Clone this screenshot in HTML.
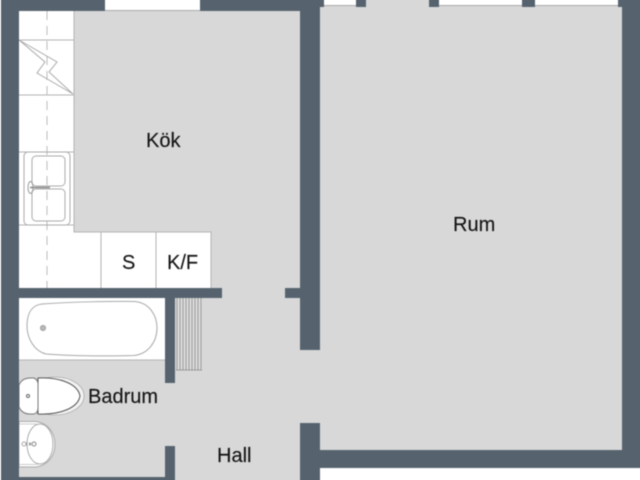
<!DOCTYPE html>
<html>
<head>
<meta charset="utf-8">
<style>
html,body{margin:0;padding:0;background:#fff}
#wrap{position:relative;width:640px;height:480px;overflow:hidden;contain:paint}
svg{display:block;position:absolute;left:-10px;top:-10px;width:660px;height:500px;filter:blur(0.4px)}
text{font-family:"Liberation Sans",sans-serif;font-size:20px;fill:#151515;stroke:#151515;stroke-width:0.15px}
</style>
</head>
<body>
<div id="wrap">
<svg xmlns="http://www.w3.org/2000/svg" width="660" height="500" viewBox="-10 -10 660 500">
<rect x="-10" y="-10" width="660" height="500" fill="#fff"/>
<rect x="1" y="-10" width="649" height="500" fill="#d8d8d8"/>

<!-- white areas -->
<rect x="19" y="11" width="55" height="277" fill="#fff"/>
<rect x="74" y="232" width="137" height="56" fill="#fff"/>
<rect x="19" y="298" width="146" height="62" fill="#fff"/>
<rect x="320" y="468" width="330" height="22" fill="#fff"/>
<rect x="1" y="477" width="174" height="13" fill="#56636f"/>

<!-- kitchen lines -->
<g fill="none" stroke="#b4b4b4" stroke-width="1">
<path d="M74 11V232H211V288"/>
<path d="M19 40H74M19 95H74M19 152H74M19 225H74"/>
<path d="M101 232V288M156 232V288"/>
<path d="M19 360H165"/>
<path d="M47 11V288" stroke="#bbb" stroke-dasharray="9 6"/>
<path d="M19 40L57 62L49 72L73 94L37 73L45 62Z" stroke="#aaa"/>
<rect x="24" y="152" width="46" height="73" rx="4" stroke="#aaa"/>
<rect x="32" y="156" width="33" height="30" rx="4" stroke="#aaa"/>
<rect x="32" y="189" width="33" height="32" rx="4" stroke="#aaa"/>
<ellipse cx="30.500" cy="187.500" rx="2.500" ry="6" stroke="#999"/>
<path d="M30 187.500H50" stroke="#888" stroke-width="1.500"/>
</g>

<!-- bath -->
<path d="M42 304C70 302 110 301 135 301.500C150 303 157 316 157 328C157 342 148 354 134 355.500C110 356 70 356 46 354C34 351 27 338 27 326C27 313 32 305 42 304Z" fill="#fff" stroke="#a8a8a8" stroke-width="1"/>
<circle cx="43" cy="328" r="2.500" fill="#bbb" stroke="#999"/>

<!-- toilet -->
<ellipse cx="55" cy="396" rx="29" ry="19" fill="#f3f3f3" stroke="#aaa" stroke-width="0.800"/>
<path d="M38 378C60 377 78 384 80 396C78 408 60 415 38 414Z" fill="#fff" stroke="#555" stroke-width="1"/>
<path d="M19 385Q22 378 30 378H34Q38 380 38 384V408Q38 413 34 414H30Q22 414 19 407Z" fill="#fff" stroke="#777" stroke-width="1"/>
<circle cx="28" cy="396" r="1.500" fill="#fff" stroke="#666"/>

<!-- basin -->
<path d="M19 421.500H36C48 423 55 433 55 444.500C55 456 48 465 36 467H19Z" fill="#fff" stroke="#aaa"/>
<path d="M19 424H36C46 426 52.500 434 52.500 444.500C52.500 455 46 463 36 464.500H19Z" fill="none" stroke="#bbb" stroke-width="0.800"/>
<ellipse cx="40" cy="444" rx="13" ry="20" fill="#fff" stroke="#aaa"/>
<path d="M22 444H35" stroke="#999" stroke-width="3" stroke-dasharray="2 1.500"/>
<circle cx="34" cy="444" r="2" fill="#fff" stroke="#888"/>
<circle cx="24" cy="444" r="2" fill="#fff" stroke="#aaa"/>

<!-- mat / radiator -->
<rect x="176" y="298" width="26" height="72" fill="#dcdcdc"/>
<path d="M177 298V370M180 298V370M183 298V370M186 298V370M189 298V370M192 298V370M195 298V370M198 298V370M201 298V370M176 370H202" stroke="#9a9a9a" stroke-width="1" fill="none"/>

<!-- walls -->
<g fill="#56636f">
<rect x="1" y="-10" width="18" height="500"/>
<rect x="1" y="-10" width="104" height="21"/>
<rect x="200" y="-10" width="120" height="21"/>
<rect x="300" y="-10" width="20" height="360"/>
<rect x="285" y="288" width="15" height="10"/>
<rect x="300" y="423" width="20" height="67"/>
<rect x="320" y="450" width="330" height="18"/>
<rect x="622" y="-10" width="28" height="478"/>
<rect x="19" y="288" width="203" height="10"/>
<rect x="165" y="298" width="10" height="85"/>
<rect x="165" y="446" width="10" height="44"/>
<rect x="320" y="-10" width="4" height="17"/>
<rect x="356" y="-10" width="10" height="17"/>
<rect x="429" y="-10" width="10" height="17"/>
<rect x="522" y="-10" width="13" height="17"/>
<rect x="618" y="-10" width="4" height="17"/>
</g>

<!-- windows -->
<g fill="#fff">
<rect x="105" y="-10" width="95" height="20"/>
<rect x="324" y="-10" width="32" height="15"/>
<rect x="439" y="-10" width="83" height="15"/>
<rect x="535" y="-10" width="83" height="15"/>
</g>
<path d="M105 10.500H200M324 5.500H356M439 5.500H522M535 5.500H618" stroke="#aaa" stroke-width="1"/>

<!-- labels -->
<text x="146" y="147">Kök</text>
<text x="453" y="231">Rum</text>
<text x="122" y="269">S</text>
<text x="167" y="269">K/F</text>
<text x="88" y="403">Badrum</text>
<text x="217" y="462">Hall</text>
</svg>
</div>
</body>
</html>
